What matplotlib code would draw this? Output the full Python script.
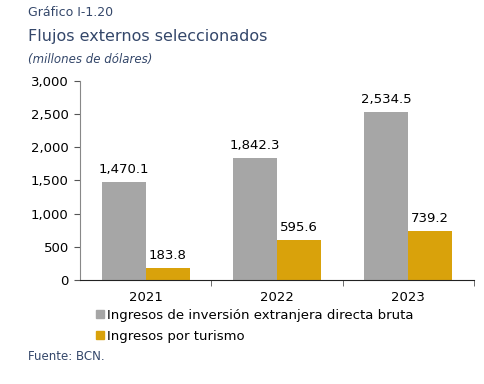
import matplotlib.pyplot as plt
import numpy as np
from matplotlib.patches import Patch

years = ["2021", "2022", "2023"]
ied = [1470.1, 1842.3, 2534.5]
turismo = [183.8, 595.6, 739.2]
series_names = ["Ingresos de inversión extranjera directa bruta", "Ingresos por turismo"]

gray = "#a6a6a6"
gold = "#d9a20b"
title_col = "#34476a"

def main():
    fig = plt.figure(figsize=(4.84, 3.84), dpi=100)
    ax = fig.add_axes([0.165, 0.271, 0.814, 0.518])

    x = np.arange(len(years))
    w = 0.335
    ax.bar(x - w / 2, ied, w, color=gray)
    ax.bar(x + w / 2, turismo, w, color=gold)

    for xi, v in zip(x, ied):
        ax.text(xi - w / 2, v + 90, "{:,.1f}".format(v), ha="center", va="bottom", fontsize=9.5)
    for xi, v in zip(x, turismo):
        ax.text(xi + w / 2, v + 90, "{:,.1f}".format(v), ha="center", va="bottom", fontsize=9.5)

    ax.set_xlim(-0.5, 2.5)
    ax.set_ylim(0, 3000)
    ax.set_yticks(range(0, 3001, 500))
    ax.set_yticklabels(["{:,}".format(t) for t in range(0, 3001, 500)], fontsize=9.5)
    ax.set_xticks(x)
    ax.set_xticklabels(years, fontsize=9.5)
    ax.tick_params(axis="x", length=0, pad=8)
    ax.set_xticks([0.5, 1.5, 2.5], minor=True)
    ax.tick_params(axis="x", which="minor", length=4, color="#555555")
    ax.tick_params(axis="y", length=4, color="#555555", pad=4)
    for s in ["top", "right"]:
        ax.spines[s].set_visible(False)
    ax.spines["left"].set_color("#888888")
    ax.spines["bottom"].set_color("#222222")

    handles = [Patch(color=gray), Patch(color=gold)]
    fig.legend(handles, series_names, loc="upper left", bbox_to_anchor=(0.188, 0.21),
               frameon=False, fontsize=9.5, handlelength=0.55, handleheight=0.55,
               handletextpad=0.3, labelspacing=0.6, borderaxespad=0)

    fig.text(28 / 484, 1 - 12 / 384, "Gráfico I-1.20", fontsize=9, color=title_col, va="center")
    fig.text(28 / 484, 1 - 37 / 384, "Flujos externos seleccionados", fontsize=11.5,
             color=title_col, va="center")
    fig.text(28 / 484, 1 - 60 / 384, "(millones de dólares)", fontsize=8.5,
             color=title_col, va="center", style="italic")
    fig.text(28 / 484, 1 - 357 / 384, "Fuente: BCN.", fontsize=8.5, color=title_col, va="center")

    fig.savefig("out.png", dpi=100)

if __name__ == "__main__":
    main()
